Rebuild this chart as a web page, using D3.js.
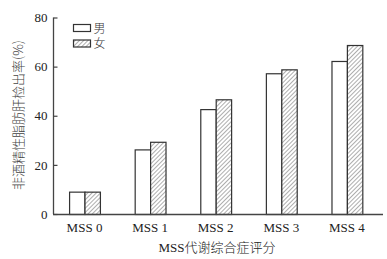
<!DOCTYPE html>
<html><head><meta charset="utf-8">
<script src="https://cdn.jsdelivr.net/npm/d3@7"></script>
<style>body{margin:0;background:#fff}svg{display:block}</style>
</head><body><svg id="c" width="387" height="259"></svg>
<script>
const categories = ["MSS 0","MSS 1","MSS 2","MSS 3","MSS 4"];
const seriesNames = ["男","女"];
const male = [9.1, 26.3, 42.7, 57.3, 62.3];
const female = [9.1, 29.4, 46.7, 58.9, 68.8];
const yTicks = [0,20,40,60,80];

const svg = d3.select("#c");
const serif = "'Liberation Serif','Times New Roman',serif";
const cjk = "'Noto Sans CJK SC',sans-serif";
const axisColor = "#444";

const defs = svg.append("defs");
const pat = defs.append("pattern").attr("id","hatch").attr("patternUnits","userSpaceOnUse")
  .attr("width",3).attr("height",3).attr("patternTransform","rotate(45)");
pat.append("rect").attr("width",3).attr("height",3).attr("fill","#fff");
pat.append("line").attr("x1",0).attr("y1",0).attr("x2",0).attr("y2",3)
  .attr("stroke","#777").attr("stroke-width",1.2);

const x = d3.scaleBand().domain(categories).range([51.7,379.7]).paddingInner(0.53).paddingOuter(0.265);
const x1 = d3.scaleBand().domain(seriesNames).range([0, x.bandwidth()]);
const y = d3.scaleLinear().domain([0,80]).range([214,17.5]);

// bars
const data = categories.map((c,i)=>({c, vals:[{s:"男",v:male[i]},{s:"女",v:female[i]}]}));
const g = svg.append("g");
data.forEach(d=>{
  d.vals.forEach(e=>{
    g.append("rect")
      .attr("x", x(d.c)+x1(e.s)+0.5)
      .attr("y", y(e.v)+0.5)
      .attr("width", x1.bandwidth())
      .attr("height", y(0)-y(e.v))
      .attr("fill", e.s==="男" ? "#fff" : "url(#hatch)")
      .attr("stroke","#333").attr("stroke-width",1.2);
  });
});

// y axis
const yAxis = svg.append("g").attr("transform","translate(53.5,0)")
  .call(d3.axisRight(y).tickValues(yTicks).tickSize(4).tickFormat(d3.format("d")));
yAxis.select(".domain").attr("stroke",axisColor).attr("stroke-width",1.3).attr("d","M0,17.5V214");
yAxis.selectAll(".tick line").attr("stroke",axisColor).attr("stroke-width",1.2);
yAxis.selectAll(".tick text").attr("x",-6).attr("text-anchor","end")
  .style("font-family",serif).style("font-size","13px").attr("fill","#222");

// x axis
const xAxis = svg.append("g").attr("transform","translate(0,214.5)")
  .call(d3.axisBottom(x).tickSize(0).tickPadding(8));
xAxis.select(".domain").attr("stroke",axisColor).attr("stroke-width",1.3).attr("d","M53,0H383");
xAxis.selectAll(".tick text").style("font-family",serif).style("font-size","13px").attr("fill","#222");

// axis titles
const xt = svg.append("text").attr("x",217).attr("y",252).attr("text-anchor","middle").attr("fill","#222").style("font-size","13px");
xt.append("tspan").style("font-family",serif).text("MSS");
xt.append("tspan").style("font-family",cjk).style("font-weight","300").text("代谢综合症评分");

svg.append("text").attr("transform","translate(23,115) rotate(-90)").attr("text-anchor","middle")
  .style("font-family",cjk).style("font-size","13px").style("font-weight","300").attr("fill","#444")
  .text("非酒精性脂肪肝检出率(%)");

// legend
const leg = svg.append("g").attr("transform","translate(73.5,24.5)");
seriesNames.forEach((s,i)=>{
  leg.append("rect").attr("x",0).attr("y",i*15.5).attr("width",17).attr("height",7)
    .attr("fill", i===0?"#fff":"url(#hatch)").attr("stroke","#333").attr("stroke-width",1.2);
  leg.append("text").attr("x",20).attr("y",i*15.5+8).text(s)
    .style("font-family",cjk).style("font-size","12px").style("font-weight","300").attr("fill","#333");
});
</script></body></html>
